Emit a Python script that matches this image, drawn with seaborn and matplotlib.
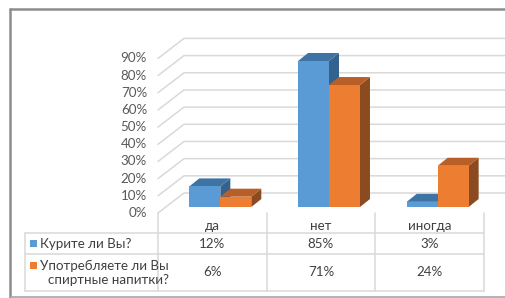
import matplotlib
matplotlib.use("Agg")
import matplotlib.pyplot as plt
import matplotlib.transforms as mtransforms
from matplotlib.patches import Polygon, Rectangle
from matplotlib.lines import Line2D
import pandas as pd
import seaborn as sns

# data
categories = ["да", "нет", "иногда"]
series = ["Курите ли Вы?", "Употребляете ли Вы\nспиртные напитки?"]
smoke = [0.12, 0.85, 0.03]
drink = [0.06, 0.71, 0.24]
y_ticks = [0.0, 0.1, 0.2, 0.3, 0.4, 0.5, 0.6, 0.7, 0.8, 0.9]

front_colors = ["#5B9BD5", "#ED7D31"]
top_colors = ["#3F73A4", "#B85F28"]
side_colors = ["#33628E", "#8C4A20"]
grid_color = "#D9D9D9"
text_color = "#404040"
tick_color = "#595959"
FS = 9.6

W, H = 506, 298
sns.set_theme(style="white")
plt.rcParams["font.family"] = ["Lato", "Noto Sans", "DejaVu Sans"]

fig = plt.figure(figsize=(W / 100, H / 100), dpi=100)
fig.patch.set_facecolor("white")

# axes = front plane of the bars (pixel layout of the reference)
ax = fig.add_axes([166 / W, (H - 207) / H, 326 / W, 154.6 / H])

df = pd.DataFrame({
    "category": categories * 2,
    "series": [series[0]] * 3 + [series[1]] * 3,
    "value": smoke + drink,
})
sns.barplot(data=df, x="category", y="value", hue="series",
            palette=front_colors, width=0.57, saturation=1,
            linewidth=0, legend=False, ax=ax)
ax.set_xlim(-0.5, 2.5)
ax.set_ylim(0, 0.9)
ax.axis("off")

pxx = ax.bbox.width / 3.0
pxy = ax.bbox.height / 0.9

# 3D depth of bars and walls, in data units
ddx, ddy = 10 / pxx, 8 / pxy
lab_dx, lab_dy = -8 / pxx, -6 / pxy      # label (front) plane
back_dx, back_dy = 18 / pxx, 14 / pxy    # back wall

for v in y_ticks:
    ax.add_line(Line2D([-0.5 + lab_dx, -0.5 + back_dx, 4.0],
                       [v + lab_dy, v + back_dy, v + back_dy],
                       color=grid_color, lw=1.1, clip_on=False, zorder=1))
    ax.text(-0.5 + lab_dx - 11 / pxx, v + lab_dy, f"{round(v * 100)}%",
            ha="right", va="center", fontsize=FS, color=tick_color)

for k, cont in enumerate(ax.containers):
    for bar in cont:
        x0, w, h = bar.get_x(), bar.get_width(), bar.get_height()
        x1 = x0 + w
        ax.add_patch(Polygon([(x1, 0), (x1, h), (x1 + ddx, h + ddy), (x1 + ddx, ddy)],
                             closed=True, fc=side_colors[k], ec="none",
                             zorder=2 + k + 0.1, clip_on=False))
        ax.add_patch(Polygon([(x0, h), (x1, h), (x1 + ddx, h + ddy), (x0 + ddx, h + ddy)],
                             closed=True, fc=top_colors[k], ec="none",
                             zorder=2 + k + 0.2, clip_on=False))
        bar.set_zorder(2 + k + 0.3)

# data table under the plot
def fy(py):
    return 1 - py / H

col_trans = mtransforms.blended_transform_factory(ax.transData, fig.transFigure) + \
    mtransforms.ScaledTranslation(-8 / 100, 0, fig.dpi_scale_trans)

for b in [-0.5, 0.5, 1.5, 2.5]:
    fig.add_artist(Line2D([b, b], [fy(213), fy(291)], transform=col_trans,
                          color=grid_color, lw=1.1))
for py in [233, 254, 291]:
    fig.add_artist(Line2D([25 / W, 484 / W], [fy(py), fy(py)],
                          transform=fig.transFigure, color=grid_color, lw=1.1))
fig.add_artist(Line2D([25 / W, 25 / W], [fy(233), fy(291)],
                      transform=fig.transFigure, color=grid_color, lw=1.1))

for i, c in enumerate(categories):
    fig.text(i, fy(226), c, transform=col_trans, ha="center", va="center",
             fontsize=FS, color=text_color)
    fig.text(i, fy(244), f"{round(smoke[i] * 100)}%", transform=col_trans,
             ha="center", va="center", fontsize=FS, color=text_color)
    fig.text(i, fy(272.5), f"{round(drink[i] * 100)}%", transform=col_trans,
             ha="center", va="center", fontsize=FS, color=text_color)

for k, (name, py) in enumerate(zip(series, [243.5, 272.5])):
    sq_y = 243.5 if k == 0 else 265
    fig.add_artist(Rectangle((30 / W, fy(sq_y + 3.5)), 7 / W, 7 / H,
                             transform=fig.transFigure, fc=front_colors[k], ec="none"))
    fig.text(40 / W, fy(py), name, ha="left", va="center", fontsize=FS,
             color=text_color, linespacing=1.2, multialignment="right")

# outer chart border
border = "#8C8C8C"
fig.add_artist(Line2D([10 / W, 10 / W], [fy(9), 0], transform=fig.transFigure, color=border, lw=1.8))
fig.add_artist(Line2D([10 / W, 1], [fy(9), fy(9)], transform=fig.transFigure, color=border, lw=1.8))
fig.add_artist(Line2D([10 / W, 1], [fy(296.5), fy(296.5)], transform=fig.transFigure, color="#A6A6A6", lw=1.2))

fig.savefig("out.png", dpi=100, facecolor="white")
